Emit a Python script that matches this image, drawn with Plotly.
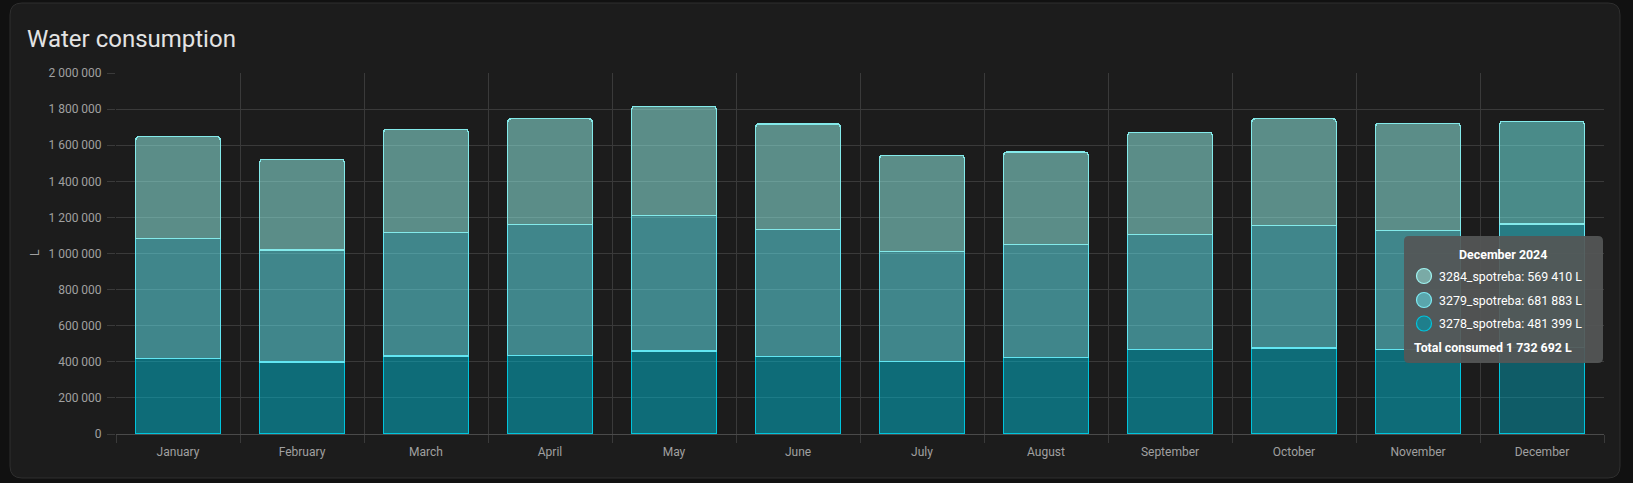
import plotly.graph_objects as go

# ---------------- data ----------------
months = ["January", "February", "March", "April", "May", "June",
          "July", "August", "September", "October", "November", "December"]
s3278 = [417000, 399000, 432000, 436000, 460000, 428000,
         403000, 426000, 467000, 477000, 467000, 481399]
s3279 = [666000, 620000, 686000, 723000, 750000, 707000,
         606000, 623000, 640000, 678000, 659000, 681883]
s3284 = [564000, 503000, 571000, 587000, 606000, 583000,
         536000, 513000, 564000, 591000, 596000, 569410]
y_ticks = [0, 200000, 400000, 600000, 800000, 1000000,
           1200000, 1400000, 1600000, 1800000, 2000000]
tooltip_title = "December 2024"
unit = "L"

# ---------------- layout geometry (pixels) ----------------
W, H = 1633, 483
PL, PR, PT, PB = 116, 1604, 73, 434   # plot area in pixels


def fx(px):
    return (px - PL) / (PR - PL)


def fy(py):
    return (PB - py) / (PB - PT)


def rounded_path(x0, y0, x1, y1, r):
    # pixel box -> paper path with rounded corners
    def P(x, y):
        return f"{fx(x)},{fy(y)}"
    return (f"M {P(x0 + r, y0)} L {P(x1 - r, y0)} Q {P(x1, y0)} {P(x1, y0 + r)} "
            f"L {P(x1, y1 - r)} Q {P(x1, y1)} {P(x1 - r, y1)} "
            f"L {P(x0 + r, y1)} Q {P(x0, y1)} {P(x0, y1 - r)} "
            f"L {P(x0, y0 + r)} Q {P(x0, y0)} {P(x0 + r, y0)} Z")


def fmt(v):
    return f"{v:,}".replace(",", " ")


# colours (December bar is shown in its hovered state)
c3278_fill, c3278_hover, c3278_line = "rgba(0,188,212,0.5)", "rgba(0,170,196,0.45)", "#00c4dc"
c3279_fill, c3279_hover, c3279_line = "rgba(100,240,250,0.5)", "rgba(50,220,235,0.5)", "#62e6f2"
c3284_fill, c3284_hover, c3284_line = "rgba(144,235,226,0.55)", "rgba(120,250,245,0.5)", "#84eaea"

n = len(months)
fig = go.Figure()
series = [
    ("3278_spotreba", s3278, c3278_fill, c3278_hover, c3278_line),
    ("3279_spotreba", s3279, c3279_fill, c3279_hover, c3279_line),
    ("3284_spotreba", s3284, c3284_fill, c3284_hover, c3284_line),
]
for name, vals, fill, hov, line in series:
    fig.add_trace(go.Bar(
        x=months, y=vals, name=name,
        marker=dict(color=[fill] * (n - 1) + [hov],
                    line=dict(color=line, width=1.2)),
    ))

shapes = [
    # card
    dict(type="path", xref="paper", yref="paper", layer="below",
         path=rounded_path(10, 3, 1620, 478, 12),
         fillcolor="#1c1c1c", line=dict(color="#2e2e2e", width=1)),
    # tooltip box
    dict(type="path", xref="paper", yref="paper", layer="above",
         path=rounded_path(1404, 236, 1603, 363, 5),
         fillcolor="rgba(84,86,86,0.93)", line=dict(width=0)),
]

annotations = [
    dict(text="Water consumption", xref="paper", yref="paper",
         x=fx(25), y=fy(39), xanchor="left", yanchor="middle", showarrow=False,
         font=dict(family="Roboto", size=24, color="#e3e3e3")),
    dict(text=unit, xref="paper", yref="paper", x=fx(35), y=fy(253),
         textangle=-90, showarrow=False, xanchor="center", yanchor="middle",
         font=dict(family="Roboto", size=12, color="#a0a0a0")),
    dict(text=f"<b>{tooltip_title}</b>", xref="paper", yref="paper",
         x=fx(1503), y=fy(254), showarrow=False, xanchor="center", yanchor="middle",
         font=dict(family="Roboto", size=12.4, color="#ffffff")),
]

tip_rows = [
    ("3284_spotreba", s3284[-1], "#7aaaa6", "#9ef3f0", 276),
    ("3279_spotreba", s3279[-1], "#5aa6ac", "#7eeaf2", 300),
    ("3278_spotreba", s3278[-1], "#1f7f8c", "#00c4dc", 323.5),
]
for name, v, cfill, cline, py in tip_rows:
    shapes.append(dict(type="circle", xref="paper", yref="paper", layer="above",
                       xsizemode="pixel", ysizemode="pixel",
                       xanchor=fx(1424), yanchor=fy(py),
                       x0=-7.5, x1=7.5, y0=-7.5, y1=7.5,
                       fillcolor=cfill, line=dict(color=cline, width=1.2)))
    annotations.append(dict(text=f"{name}: {fmt(v)} {unit}", xref="paper", yref="paper",
                            x=fx(1437), y=fy(py), xanchor="left", yanchor="middle",
                            showarrow=False,
                            font=dict(family="Roboto", size=12.4, color="#ffffff")))
total = s3278[-1] + s3279[-1] + s3284[-1]
annotations.append(dict(text=f"<b>Total consumed {fmt(total)} {unit}</b>",
                        xref="paper", yref="paper", x=fx(1412), y=fy(347.5),
                        xanchor="left", yanchor="middle", showarrow=False,
                        font=dict(family="Roboto", size=12.4, color="#ffffff")))

fig.update_layout(
    width=W, height=H,
    margin=dict(l=PL, r=W - PR, t=PT, b=H - PB, pad=0),
    paper_bgcolor="#111111", plot_bgcolor="rgba(0,0,0,0)",
    barmode="stack", bargap=0.32, barcornerradius=3,
    showlegend=False, hovermode=False,
    separators=". ",
    font=dict(family="Roboto", size=12, color="#a0a0a0"),
    shapes=shapes, annotations=annotations,
)
fig.update_xaxes(
    type="category", tickson="boundaries", ticks="outside", ticklen=8,
    tickcolor="#3a3a3a", showgrid=True, gridcolor="#3a3a3a", gridwidth=1,
    showline=True, linecolor="#4a4a4a", linewidth=1, ticklabelstandoff=7,
    tickfont=dict(family="Roboto", size=12, color="#a0a0a0"),
    range=[-0.5, n - 0.5], fixedrange=True,
)
fig.update_yaxes(
    range=[0, 2000000], tickvals=y_ticks, tickformat=",d",
    ticks="outside", ticklen=8, tickcolor="#3a3a3a",
    showgrid=True, gridcolor="#3a3a3a", gridwidth=1, zeroline=False,
    showline=False, ticklabelstandoff=3,
    tickfont=dict(family="Roboto", size=12, color="#a0a0a0"),
    fixedrange=True,
)

fig.write_html("out.html", config={"displayModeBar": False},
               post_script="document.body.style.margin='0';document.body.style.overflow='hidden';")
